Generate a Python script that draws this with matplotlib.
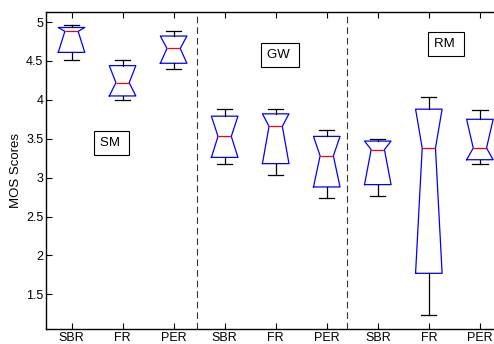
import matplotlib
matplotlib.use('Agg')
import matplotlib.pyplot as plt
from matplotlib.ticker import FuncFormatter

plt.rcParams['font.family'] = ['Liberation Sans', 'DejaVu Sans']

# box stats, one entry per box (left to right)
labels = ['SBR', 'FR', 'PER', 'SBR', 'FR', 'PER', 'SBR', 'FR', 'PER']
whis_lo = [4.51, 4.00, 4.40, 3.17, 3.03, 2.74, 2.76, 1.24, 3.18]
q1 = [4.61, 4.05, 4.47, 3.26, 3.18, 2.88, 2.91, 1.77, 3.23]
med = [4.88, 4.22, 4.66, 3.53, 3.66, 3.28, 3.36, 3.38, 3.38]
q3 = [4.93, 4.44, 4.82, 3.79, 3.82, 3.53, 3.47, 3.88, 3.75]
whis_hi = [4.96, 4.51, 4.88, 3.88, 3.88, 3.61, 3.50, 4.04, 3.87]

groups = ['SM', 'GW', 'RM']
group_xy = [(1.78, 3.44), (5.09, 4.58), (8.34, 4.72)]
separators = [3.46, 6.40]

stats = []
for i in range(len(labels)):
    stats.append({'whislo': whis_lo[i], 'q1': q1[i], 'med': med[i],
                  'q3': q3[i], 'whishi': whis_hi[i],
                  'cilo': q1[i], 'cihi': q3[i], 'fliers': []})

fig = plt.figure(figsize=(4.94, 3.44), dpi=100)
ax = fig.add_axes([0.0931, 0.0436, 0.930, 0.9215])

pos = list(range(1, len(labels) + 1))
ax.bxp(stats, positions=pos, widths=0.52, capwidths=0.3, shownotches=True,
       showfliers=False,
       boxprops=dict(color='blue', linewidth=0.9),
       medianprops=dict(color='red', linewidth=0.9),
       whiskerprops=dict(color='black', linewidth=0.9, linestyle='-'),
       capprops=dict(color='black', linewidth=0.9))

for xs in separators:
    ax.axvline(xs, color='#333333', linewidth=0.8, linestyle=(0, (6, 3.5)))

for name, (gx, gy) in zip(groups, group_xy):
    ax.text(gx, gy, name + ' ', ha='center', va='center', fontsize=9.5,
            bbox=dict(boxstyle='square,pad=0.45', facecolor='white',
                      edgecolor='black', linewidth=0.8))

ax.set_xlim(0.5, 9.5)
ax.set_ylim(1.054, 5.129)
ax.set_xticks(pos)
ax.set_xticklabels(labels)
ax.set_yticks([1.5, 2, 2.5, 3, 3.5, 4, 4.5, 5])
ax.yaxis.set_major_formatter(FuncFormatter(lambda v, p: '%g' % v))
ax.set_ylabel('MOS Scores', fontsize=9.5, labelpad=3)
ax.tick_params(direction='in', length=4, width=0.8, labelsize=9,
               top=True, right=True, pad=2)
for sp in ax.spines.values():
    sp.set_linewidth(1.0)

fig.savefig('out.png', dpi=100)
